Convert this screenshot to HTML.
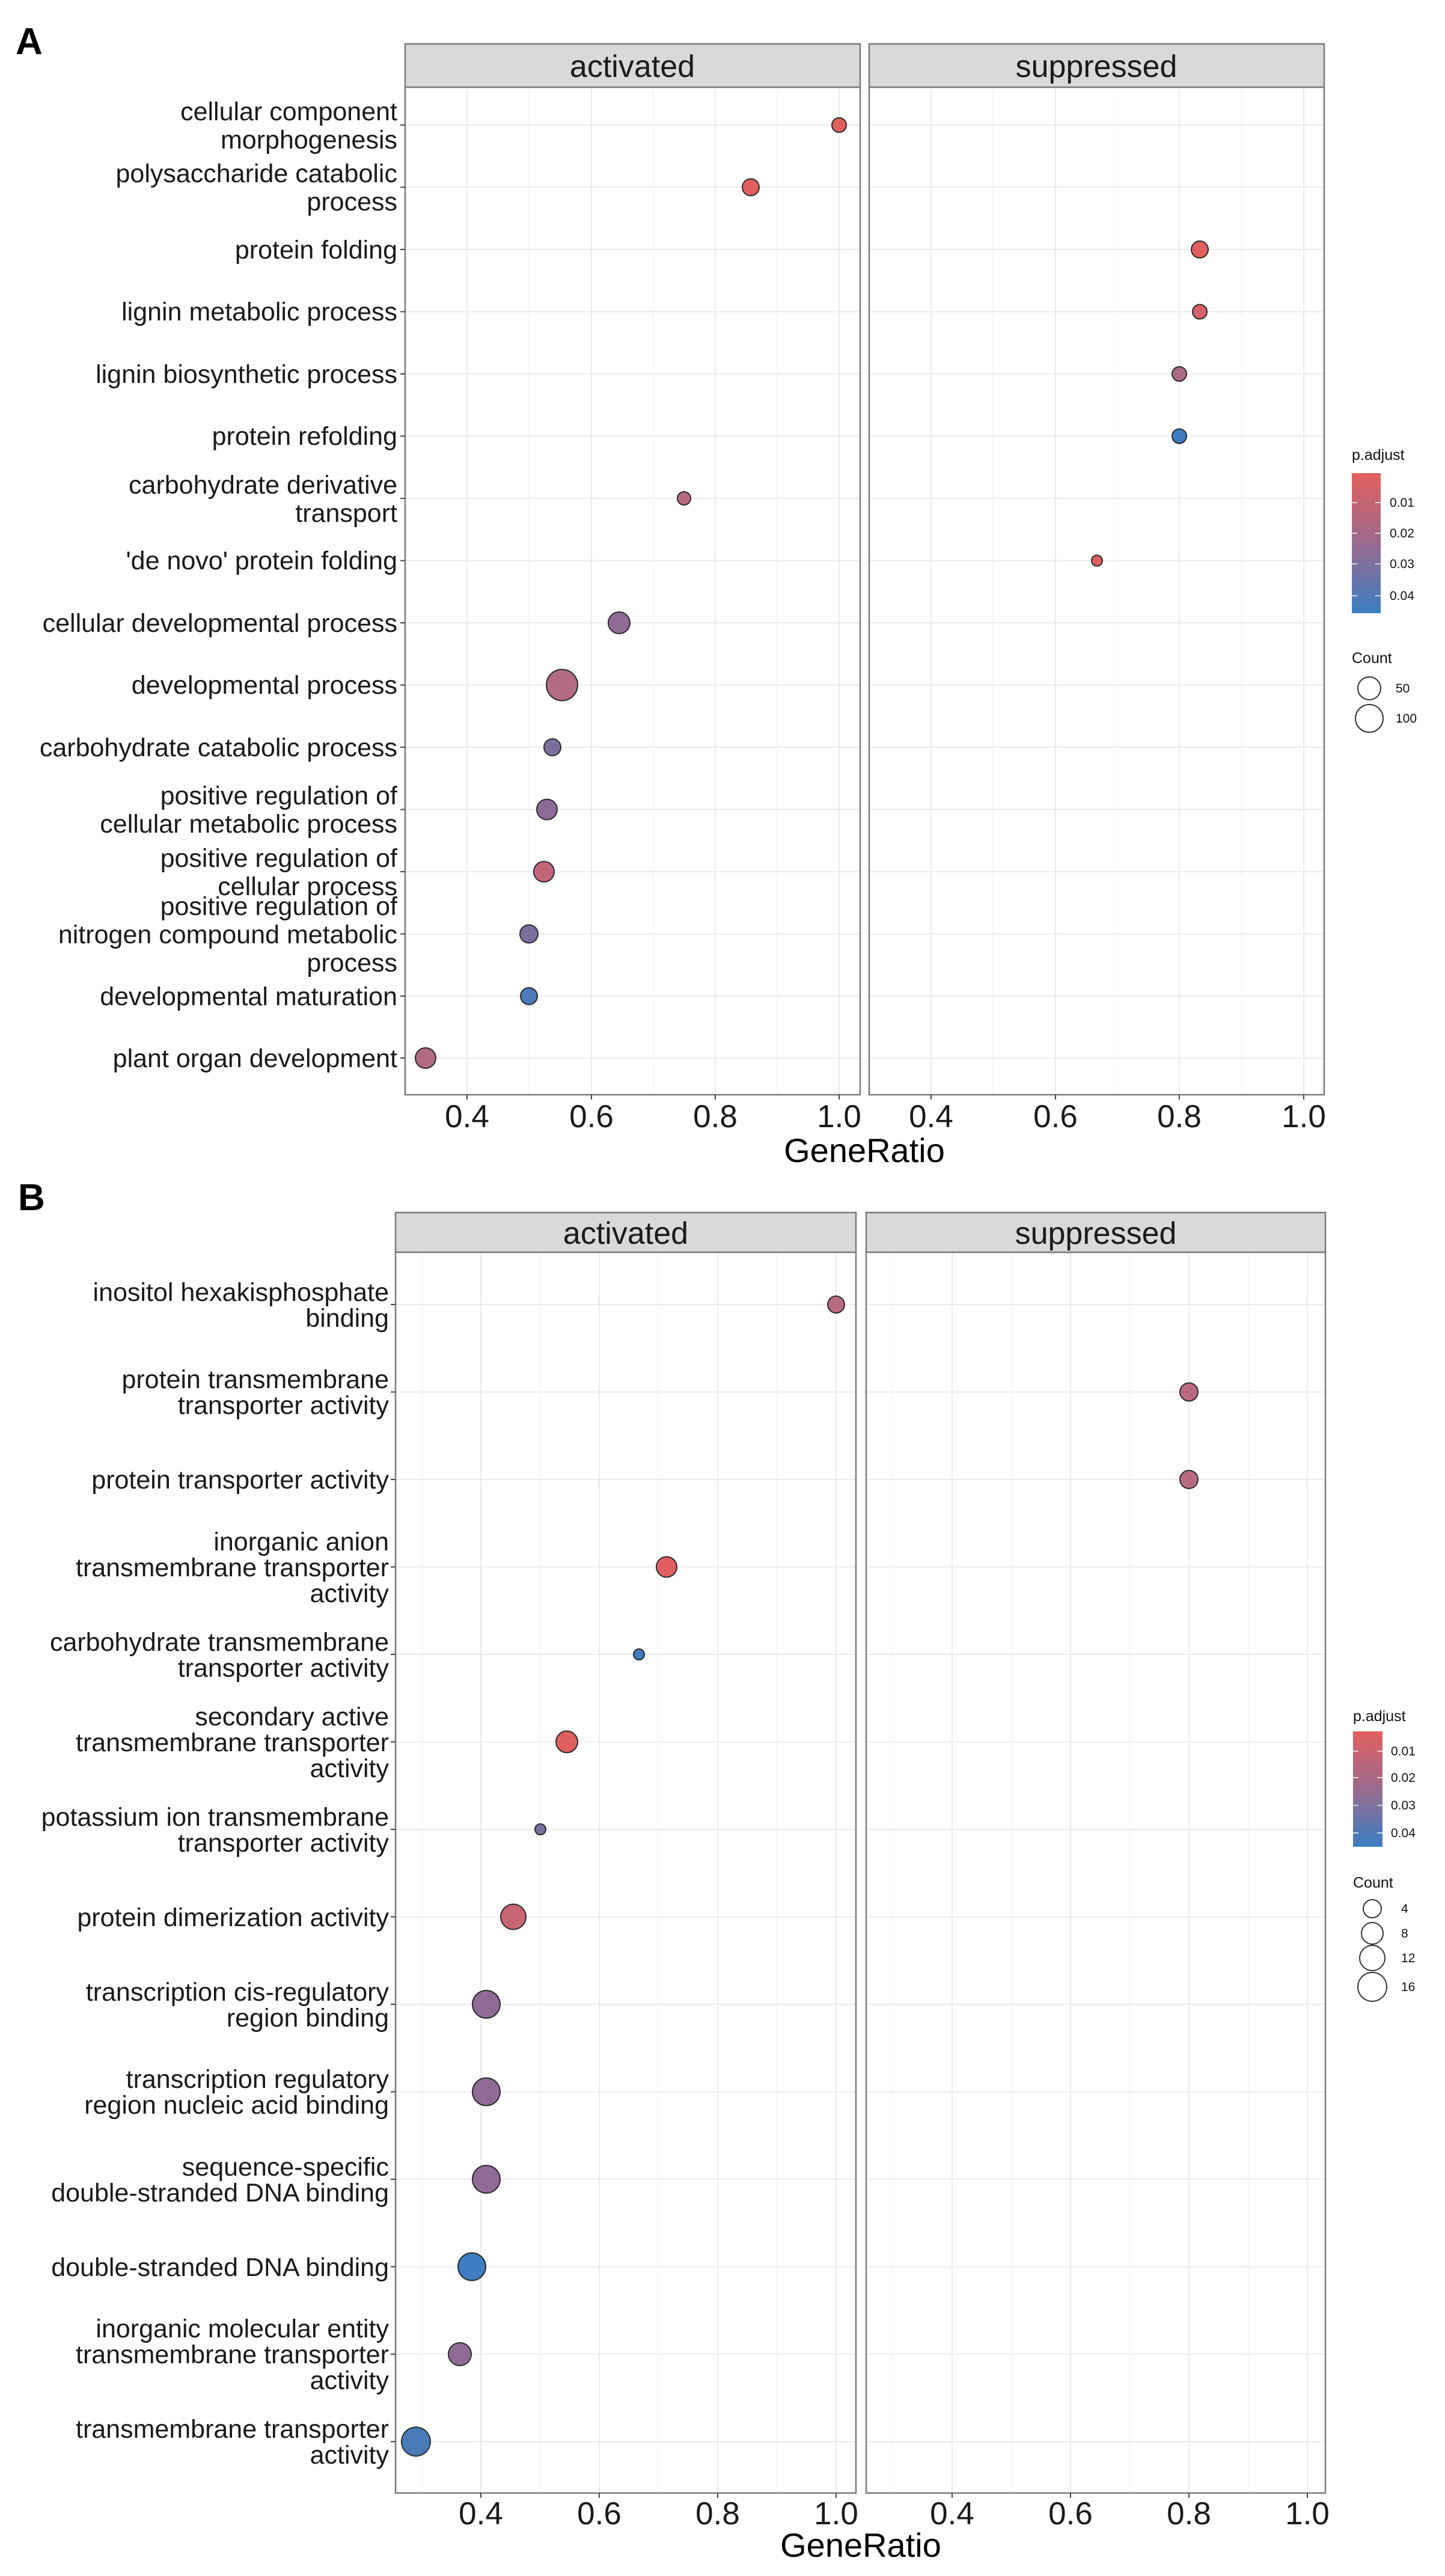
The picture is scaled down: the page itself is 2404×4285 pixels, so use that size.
<!DOCTYPE html>
<html><head><meta charset="utf-8"><style>
html,body{margin:0;padding:0;background:#fff;}
svg{display:block;font-family:"Liberation Sans",Arial,sans-serif;}
.lab{font-size:43px;fill:#1a1a1a;text-anchor:end;}
.tk{font-size:53px;fill:#1a1a1a;text-anchor:middle;}
.st{font-size:52px;fill:#1a1a1a;text-anchor:middle;}
.gr{font-size:56px;fill:#000;text-anchor:middle;}
.lt{font-size:25px;fill:#111;}
.ll{font-size:21px;fill:#111;}
.pt{stroke:#2b2b2b;stroke-width:2;}
.maj{stroke:#ebebeb;stroke-width:2;}
.min{stroke:#f5f5f5;stroke-width:1.5;}
.frame{fill:none;stroke:#7a7a7a;stroke-width:2.5;}
.strip{fill:#d9d9d9;stroke:#7a7a7a;stroke-width:2.5;}
</style></head><body>
<svg width="2404" height="4285" viewBox="0 0 2404 4285" xmlns="http://www.w3.org/2000/svg">
<defs>
<linearGradient id="cb" x1="0" y1="0" x2="0" y2="1">
<stop offset="0" stop-color="#e3605e"/>
<stop offset="0.5" stop-color="#9a6a8e"/>
<stop offset="1" stop-color="#3a7ec2"/>
</linearGradient>
</defs>
<rect width="2404" height="4285" fill="#fff"/>

<!-- ============ PANEL A ============ -->
<text x="26" y="90" style="font-size:62px;font-weight:bold;">A</text>

<!-- activated panel grid -->
<g>
<line class="min" x1="880" y1="145" x2="880" y2="1821"/>
<line class="min" x1="1087" y1="145" x2="1087" y2="1821"/>
<line class="min" x1="1293" y1="145" x2="1293" y2="1821"/>
<line class="maj" x1="777" y1="145" x2="777" y2="1821"/>
<line class="maj" x1="984" y1="145" x2="984" y2="1821"/>
<line class="maj" x1="1190" y1="145" x2="1190" y2="1821"/>
<line class="maj" x1="1396" y1="145" x2="1396" y2="1821"/>
<line class="min" x1="1652" y1="145" x2="1652" y2="1821"/>
<line class="min" x1="1859" y1="145" x2="1859" y2="1821"/>
<line class="min" x1="2066" y1="145" x2="2066" y2="1821"/>
<line class="maj" x1="1549" y1="145" x2="1549" y2="1821"/>
<line class="maj" x1="1756" y1="145" x2="1756" y2="1821"/>
<line class="maj" x1="1962" y1="145" x2="1962" y2="1821"/>
<line class="maj" x1="2169" y1="145" x2="2169" y2="1821"/>
</g>
<g class="maj">
<line x1="674" x2="1431" y1="208" y2="208"/><line x1="1446" x2="2203" y1="208" y2="208"/>
<line x1="674" x2="1431" y1="311.5" y2="311.5"/><line x1="1446" x2="2203" y1="311.5" y2="311.5"/>
<line x1="674" x2="1431" y1="415" y2="415"/><line x1="1446" x2="2203" y1="415" y2="415"/>
<line x1="674" x2="1431" y1="518.5" y2="518.5"/><line x1="1446" x2="2203" y1="518.5" y2="518.5"/>
<line x1="674" x2="1431" y1="622" y2="622"/><line x1="1446" x2="2203" y1="622" y2="622"/>
<line x1="674" x2="1431" y1="725.5" y2="725.5"/><line x1="1446" x2="2203" y1="725.5" y2="725.5"/>
<line x1="674" x2="1431" y1="829" y2="829"/><line x1="1446" x2="2203" y1="829" y2="829"/>
<line x1="674" x2="1431" y1="932.5" y2="932.5"/><line x1="1446" x2="2203" y1="932.5" y2="932.5"/>
<line x1="674" x2="1431" y1="1036" y2="1036"/><line x1="1446" x2="2203" y1="1036" y2="1036"/>
<line x1="674" x2="1431" y1="1139.5" y2="1139.5"/><line x1="1446" x2="2203" y1="1139.5" y2="1139.5"/>
<line x1="674" x2="1431" y1="1243" y2="1243"/><line x1="1446" x2="2203" y1="1243" y2="1243"/>
<line x1="674" x2="1431" y1="1346.5" y2="1346.5"/><line x1="1446" x2="2203" y1="1346.5" y2="1346.5"/>
<line x1="674" x2="1431" y1="1450" y2="1450"/><line x1="1446" x2="2203" y1="1450" y2="1450"/>
<line x1="674" x2="1431" y1="1553.5" y2="1553.5"/><line x1="1446" x2="2203" y1="1553.5" y2="1553.5"/>
<line x1="674" x2="1431" y1="1657" y2="1657"/><line x1="1446" x2="2203" y1="1657" y2="1657"/>
<line x1="674" x2="1431" y1="1760" y2="1760"/><line x1="1446" x2="2203" y1="1760" y2="1760"/>
</g>

<!-- points A -->
<circle class="pt" cx="1396" cy="208" r="12" fill="#e3605e"/>
<circle class="pt" cx="1249" cy="311.5" r="14" fill="#e0605f"/>
<circle class="pt" cx="1996" cy="415" r="14" fill="#e0605f"/>
<circle class="pt" cx="1996" cy="518.5" r="12" fill="#d6626a"/>
<circle class="pt" cx="1962" cy="622" r="12" fill="#a86c86"/>
<circle class="pt" cx="1962" cy="725.5" r="12" fill="#3f7dc0"/>
<circle class="pt" cx="1138" cy="829" r="11" fill="#b86a80"/>
<circle class="pt" cx="1825" cy="932.5" r="9" fill="#e0605f"/>
<circle class="pt" cx="1030" cy="1036" r="18" fill="#8f6b96"/>
<circle class="pt" cx="935" cy="1139.5" r="26" fill="#b26b82"/>
<circle class="pt" cx="919" cy="1243" r="14" fill="#7a6f9f"/>
<circle class="pt" cx="910" cy="1346.5" r="17" fill="#8d6b97"/>
<circle class="pt" cx="905" cy="1450" r="17" fill="#c4667a"/>
<circle class="pt" cx="880" cy="1553.5" r="15" fill="#7a6f9f"/>
<circle class="pt" cx="880" cy="1657" r="14" fill="#4b7bbb"/>
<circle class="pt" cx="708" cy="1760" r="17" fill="#b26b82"/>

<!-- frames & strips A -->
<rect class="frame" x="674" y="145" width="757" height="1676"/>
<rect class="frame" x="1446" y="145" width="757" height="1676"/>
<rect class="strip" x="674" y="73" width="757" height="72"/>
<rect class="strip" x="1446" y="73" width="757" height="72"/>
<text class="st" x="1052" y="128">activated</text>
<text class="st" x="1824" y="128">suppressed</text>

<!-- y ticks A -->
<g stroke="#444" stroke-width="2">
<line x1="666" x2="674" y1="208" y2="208"/><line x1="666" x2="674" y1="311.5" y2="311.5"/>
<line x1="666" x2="674" y1="415" y2="415"/><line x1="666" x2="674" y1="518.5" y2="518.5"/>
<line x1="666" x2="674" y1="622" y2="622"/><line x1="666" x2="674" y1="725.5" y2="725.5"/>
<line x1="666" x2="674" y1="829" y2="829"/><line x1="666" x2="674" y1="932.5" y2="932.5"/>
<line x1="666" x2="674" y1="1036" y2="1036"/><line x1="666" x2="674" y1="1139.5" y2="1139.5"/>
<line x1="666" x2="674" y1="1243" y2="1243"/><line x1="666" x2="674" y1="1346.5" y2="1346.5"/>
<line x1="666" x2="674" y1="1450" y2="1450"/><line x1="666" x2="674" y1="1553.5" y2="1553.5"/>
<line x1="666" x2="674" y1="1657" y2="1657"/><line x1="666" x2="674" y1="1760" y2="1760"/>
<line x1="777" x2="777" y1="1821" y2="1829"/><line x1="984" x2="984" y1="1821" y2="1829"/>
<line x1="1190" x2="1190" y1="1821" y2="1829"/><line x1="1396" x2="1396" y1="1821" y2="1829"/>
<line x1="1549" x2="1549" y1="1821" y2="1829"/><line x1="1756" x2="1756" y1="1821" y2="1829"/>
<line x1="1962" x2="1962" y1="1821" y2="1829"/><line x1="2169" x2="2169" y1="1821" y2="1829"/>
</g>

<!-- y labels A -->
<g class="lab">
<text x="661" y="200">cellular component</text><text x="661" y="247">morphogenesis</text>
<text x="661" y="303">polysaccharide catabolic</text><text x="661" y="350">process</text>
<text x="661" y="430">protein folding</text>
<text x="661" y="533">lignin metabolic process</text>
<text x="661" y="637">lignin biosynthetic process</text>
<text x="661" y="740">protein refolding</text>
<text x="661" y="821">carbohydrate derivative</text><text x="661" y="868">transport</text>
<text x="661" y="947">'de novo' protein folding</text>
<text x="661" y="1051">cellular developmental process</text>
<text x="661" y="1154">developmental process</text>
<text x="661" y="1258">carbohydrate catabolic process</text>
<text x="661" y="1338">positive regulation of</text><text x="661" y="1385">cellular metabolic process</text>
<text x="661" y="1442">positive regulation of</text><text x="661" y="1489">cellular process</text>
<text x="661" y="1522">positive regulation of</text><text x="661" y="1569">nitrogen compound metabolic</text><text x="661" y="1616">process</text>
<text x="661" y="1672">developmental maturation</text>
<text x="661" y="1775">plant organ development</text>
</g>

<!-- x labels A -->
<g class="tk">
<text x="777" y="1875">0.4</text><text x="984" y="1875">0.6</text><text x="1190" y="1875">0.8</text><text x="1396" y="1875">1.0</text>
<text x="1549" y="1875">0.4</text><text x="1756" y="1875">0.6</text><text x="1962" y="1875">0.8</text><text x="2169" y="1875">1.0</text>
</g>
<text class="gr" x="1438" y="1933">GeneRatio</text>

<!-- legend A -->
<text class="lt" x="2249" y="765">p.adjust</text>
<rect x="2249" y="787" width="48" height="233" fill="url(#cb)"/>
<g stroke="#eee" stroke-width="2" opacity="0.8">
<line x1="2249" x2="2258" y1="836" y2="836"/><line x1="2288" x2="2297" y1="836" y2="836"/>
<line x1="2249" x2="2258" y1="887" y2="887"/><line x1="2288" x2="2297" y1="887" y2="887"/>
<line x1="2249" x2="2258" y1="938" y2="938"/><line x1="2288" x2="2297" y1="938" y2="938"/>
<line x1="2249" x2="2258" y1="991" y2="991"/><line x1="2288" x2="2297" y1="991" y2="991"/>
</g>
<g class="ll">
<text x="2312" y="843">0.01</text><text x="2312" y="894">0.02</text><text x="2312" y="945">0.03</text><text x="2312" y="998">0.04</text>
</g>
<text class="lt" x="2249" y="1103">Count</text>
<circle cx="2278" cy="1145" r="19" fill="none" stroke="#333" stroke-width="2"/>
<circle cx="2278" cy="1195" r="23" fill="none" stroke="#333" stroke-width="2"/>
<text class="ll" x="2322" y="1152">50</text>
<text class="ll" x="2322" y="1202">100</text>

<!-- ============ PANEL B ============ -->
<text x="30" y="2013" style="font-size:62px;font-weight:bold;">B</text>

<g>
<line class="min" x1="702" y1="2083" x2="702" y2="4147"/>
<line class="min" x1="898" y1="2083" x2="898" y2="4147"/>
<line class="min" x1="1095" y1="2083" x2="1095" y2="4147"/>
<line class="min" x1="1292" y1="2083" x2="1292" y2="4147"/>
<line class="maj" x1="800" y1="2083" x2="800" y2="4147"/>
<line class="maj" x1="997" y1="2083" x2="997" y2="4147"/>
<line class="maj" x1="1194" y1="2083" x2="1194" y2="4147"/>
<line class="maj" x1="1391" y1="2083" x2="1391" y2="4147"/>
<line class="min" x1="1486" y1="2083" x2="1486" y2="4147"/>
<line class="min" x1="1683" y1="2083" x2="1683" y2="4147"/>
<line class="min" x1="1880" y1="2083" x2="1880" y2="4147"/>
<line class="min" x1="2077" y1="2083" x2="2077" y2="4147"/>
<line class="maj" x1="1584" y1="2083" x2="1584" y2="4147"/>
<line class="maj" x1="1781" y1="2083" x2="1781" y2="4147"/>
<line class="maj" x1="1978" y1="2083" x2="1978" y2="4147"/>
<line class="maj" x1="2175" y1="2083" x2="2175" y2="4147"/>
</g>
<g class="maj">
<line x1="658" x2="1424" y1="2170" y2="2170"/><line x1="1441" x2="2205" y1="2170" y2="2170"/>
<line x1="658" x2="1424" y1="2315.5" y2="2315.5"/><line x1="1441" x2="2205" y1="2315.5" y2="2315.5"/>
<line x1="658" x2="1424" y1="2461" y2="2461"/><line x1="1441" x2="2205" y1="2461" y2="2461"/>
<line x1="658" x2="1424" y1="2606.5" y2="2606.5"/><line x1="1441" x2="2205" y1="2606.5" y2="2606.5"/>
<line x1="658" x2="1424" y1="2752" y2="2752"/><line x1="1441" x2="2205" y1="2752" y2="2752"/>
<line x1="658" x2="1424" y1="2897.5" y2="2897.5"/><line x1="1441" x2="2205" y1="2897.5" y2="2897.5"/>
<line x1="658" x2="1424" y1="3043" y2="3043"/><line x1="1441" x2="2205" y1="3043" y2="3043"/>
<line x1="658" x2="1424" y1="3188.5" y2="3188.5"/><line x1="1441" x2="2205" y1="3188.5" y2="3188.5"/>
<line x1="658" x2="1424" y1="3334" y2="3334"/><line x1="1441" x2="2205" y1="3334" y2="3334"/>
<line x1="658" x2="1424" y1="3479.5" y2="3479.5"/><line x1="1441" x2="2205" y1="3479.5" y2="3479.5"/>
<line x1="658" x2="1424" y1="3625" y2="3625"/><line x1="1441" x2="2205" y1="3625" y2="3625"/>
<line x1="658" x2="1424" y1="3770.5" y2="3770.5"/><line x1="1441" x2="2205" y1="3770.5" y2="3770.5"/>
<line x1="658" x2="1424" y1="3916" y2="3916"/><line x1="1441" x2="2205" y1="3916" y2="3916"/>
<line x1="658" x2="1424" y1="4061.5" y2="4061.5"/><line x1="1441" x2="2205" y1="4061.5" y2="4061.5"/>
</g>

<circle class="pt" cx="1391" cy="2170" r="14" fill="#b86b80"/>
<circle class="pt" cx="1978" cy="2315.5" r="15" fill="#b86b80"/>
<circle class="pt" cx="1978" cy="2461" r="15" fill="#b86b80"/>
<circle class="pt" cx="1109" cy="2606.5" r="17" fill="#e0605f"/>
<circle class="pt" cx="1063" cy="2752" r="9" fill="#3f7dc0"/>
<circle class="pt" cx="943" cy="2897.5" r="18" fill="#e0605f"/>
<circle class="pt" cx="899" cy="3043" r="9" fill="#7670a0"/>
<circle class="pt" cx="854" cy="3188.5" r="21" fill="#c96673"/>
<circle class="pt" cx="809" cy="3334" r="23" fill="#8f6b96"/>
<circle class="pt" cx="809" cy="3479.5" r="23" fill="#8f6b96"/>
<circle class="pt" cx="809" cy="3625" r="23" fill="#906b96"/>
<circle class="pt" cx="785" cy="3770.5" r="23" fill="#3e7dc0"/>
<circle class="pt" cx="765" cy="3916" r="19" fill="#8f6b96"/>
<circle class="pt" cx="692" cy="4061.5" r="24" fill="#4a7ab9"/>

<rect class="frame" x="658" y="2083" width="766" height="2064"/>
<rect class="frame" x="1441" y="2083" width="764" height="2064"/>
<rect class="strip" x="658" y="2017" width="766" height="66"/>
<rect class="strip" x="1441" y="2017" width="764" height="66"/>
<text class="st" x="1041" y="2069">activated</text>
<text class="st" x="1823" y="2069">suppressed</text>

<g stroke="#444" stroke-width="2">
<line x1="650" x2="658" y1="2170" y2="2170"/><line x1="650" x2="658" y1="2315.5" y2="2315.5"/>
<line x1="650" x2="658" y1="2461" y2="2461"/><line x1="650" x2="658" y1="2606.5" y2="2606.5"/>
<line x1="650" x2="658" y1="2752" y2="2752"/><line x1="650" x2="658" y1="2897.5" y2="2897.5"/>
<line x1="650" x2="658" y1="3043" y2="3043"/><line x1="650" x2="658" y1="3188.5" y2="3188.5"/>
<line x1="650" x2="658" y1="3334" y2="3334"/><line x1="650" x2="658" y1="3479.5" y2="3479.5"/>
<line x1="650" x2="658" y1="3625" y2="3625"/><line x1="650" x2="658" y1="3770.5" y2="3770.5"/>
<line x1="650" x2="658" y1="3916" y2="3916"/><line x1="650" x2="658" y1="4061.5" y2="4061.5"/>
<line x1="800" x2="800" y1="4147" y2="4155"/><line x1="997" x2="997" y1="4147" y2="4155"/>
<line x1="1194" x2="1194" y1="4147" y2="4155"/><line x1="1391" x2="1391" y1="4147" y2="4155"/>
<line x1="1584" x2="1584" y1="4147" y2="4155"/><line x1="1781" x2="1781" y1="4147" y2="4155"/>
<line x1="1978" x2="1978" y1="4147" y2="4155"/><line x1="2175" x2="2175" y1="4147" y2="4155"/>
</g>

<g class="lab">
<text x="647" y="2164">inositol hexakisphosphate</text><text x="647" y="2207">binding</text>
<text x="647" y="2309">protein transmembrane</text><text x="647" y="2352">transporter activity</text>
<text x="647" y="2476">protein transporter activity</text>
<text x="647" y="2579">inorganic anion</text><text x="647" y="2622">transmembrane transporter</text><text x="647" y="2665">activity</text>
<text x="647" y="2746">carbohydrate transmembrane</text><text x="647" y="2789">transporter activity</text>
<text x="647" y="2870">secondary active</text><text x="647" y="2913">transmembrane transporter</text><text x="647" y="2956">activity</text>
<text x="647" y="3037">potassium ion transmembrane</text><text x="647" y="3080">transporter activity</text>
<text x="647" y="3204">protein dimerization activity</text>
<text x="647" y="3328">transcription cis-regulatory</text><text x="647" y="3371">region binding</text>
<text x="647" y="3473">transcription regulatory</text><text x="647" y="3516">region nucleic acid binding</text>
<text x="647" y="3619">sequence-specific</text><text x="647" y="3662">double-stranded DNA binding</text>
<text x="647" y="3786">double-stranded DNA binding</text>
<text x="647" y="3888">inorganic molecular entity</text><text x="647" y="3931">transmembrane transporter</text><text x="647" y="3974">activity</text>
<text x="647" y="4055">transmembrane transporter</text><text x="647" y="4098">activity</text>
</g>

<g class="tk">
<text x="800" y="4199">0.4</text><text x="997" y="4199">0.6</text><text x="1194" y="4199">0.8</text><text x="1391" y="4199">1.0</text>
<text x="1584" y="4199">0.4</text><text x="1781" y="4199">0.6</text><text x="1978" y="4199">0.8</text><text x="2175" y="4199">1.0</text>
</g>
<text class="gr" x="1432" y="4253">GeneRatio</text>

<text class="lt" x="2251" y="2863">p.adjust</text>
<rect x="2251" y="2880" width="49" height="192" fill="url(#cb)"/>
<g stroke="#eee" stroke-width="2" opacity="0.8">
<line x1="2251" x2="2260" y1="2913" y2="2913"/><line x1="2291" x2="2300" y1="2913" y2="2913"/>
<line x1="2251" x2="2260" y1="2957" y2="2957"/><line x1="2291" x2="2300" y1="2957" y2="2957"/>
<line x1="2251" x2="2260" y1="3003" y2="3003"/><line x1="2291" x2="2300" y1="3003" y2="3003"/>
<line x1="2251" x2="2260" y1="3049" y2="3049"/><line x1="2291" x2="2300" y1="3049" y2="3049"/>
</g>
<g class="ll">
<text x="2314" y="2920">0.01</text><text x="2314" y="2964">0.02</text><text x="2314" y="3010">0.03</text><text x="2314" y="3056">0.04</text>
</g>
<text class="lt" x="2251" y="3140">Count</text>
<circle cx="2283" cy="3175" r="15" fill="none" stroke="#333" stroke-width="2"/>
<circle cx="2283" cy="3216" r="18" fill="none" stroke="#333" stroke-width="2"/>
<circle cx="2283" cy="3257" r="21" fill="none" stroke="#333" stroke-width="2"/>
<circle cx="2283" cy="3305" r="24" fill="none" stroke="#333" stroke-width="2"/>
<text class="ll" x="2331" y="3182">4</text>
<text class="ll" x="2331" y="3223">8</text>
<text class="ll" x="2331" y="3264">12</text>
<text class="ll" x="2331" y="3312">16</text>
</svg>
</body></html>
